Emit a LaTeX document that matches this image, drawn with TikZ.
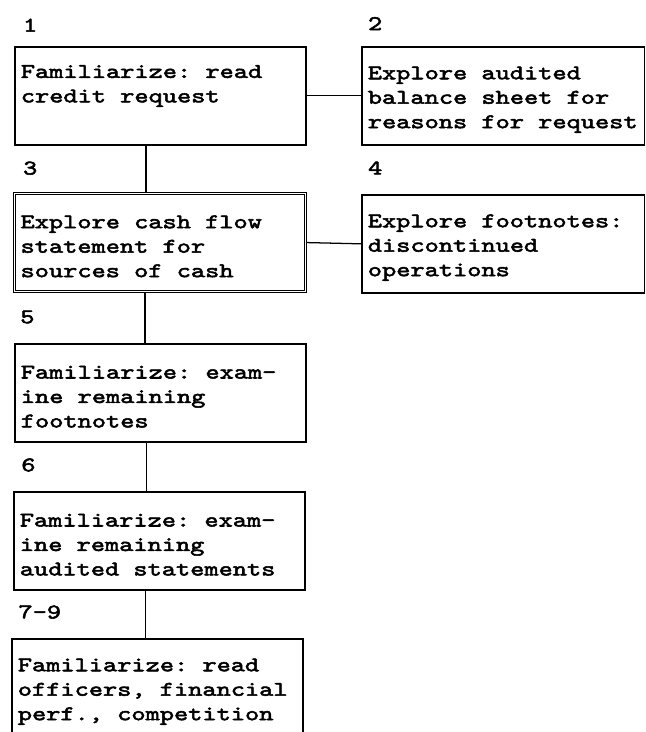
\documentclass[tikz,border=0pt]{standalone}
\usepackage{fontspec}
\usetikzlibrary{calc}
\newfontfamily\stagefont{lmmono10-regular.otf}[FakeStretch=1.3, FakeBold=2.5]
\newcommand{\stagetext}{\stagefont\fontsize{14.8}{17.4}\selectfont
	\fontdimen2\font=10.1pt\fontdimen3\font=0pt\fontdimen4\font=0pt\fontdimen7\font=0pt}
\newcommand{\stagespace}{\spaceskip=10.1pt\xspaceskip=10.1pt\relax}

\tikzset{
	stage/.style={draw, line width=1.2pt, anchor=north west, minimum height=2.45cm,
		inner xsep=0.15cm, text width=#1, align=left, font=\stagetext,
		execute at begin node={\stagespace\rule{0pt}{14.5pt}}},
	stage/.default=6.975cm,
	num/.style={anchor=west, inner sep=0pt, font=\stagetext},
	link/.style={line width=0.9pt}
}

\begin{document}
\begin{tikzpicture}
			%%%%% FRAME %%%%%
			\useasboundingbox (0, 0) rectangle (16.125, 18.3);
			\clip (0, 0) rectangle (16.125, 18.3);
			
			%%%%% STAGES %%%%%
			\node[stage] (b1) at (0.35, 17.15) {Familiarize: read\\credit request\\\strut};
			\node[stage=6.77cm] (b2) at (9.025, 17.15) {Explore audited\\balance sheet for\\reasons for request};
			\node[stage, line width=0.8pt, double, double distance=1.1pt] (b3) at (0.35, 13.475) {Explore cash flow\\statement for\\sources of cash};
			\node[stage=6.77cm] (b4) at (9.025, 13.45) {Explore footnotes:\\discontinued\\operations};
			\node[stage] (b5) at (0.35, 9.725) {Familiarize: exam-\\ine remaining\\footnotes};
			\node[stage] (b6) at (0.325, 6.025) {Familiarize: exam-\\ine remaining\\audited statements};
			\node[stage] (b7) at (0.275, 2.35) {Familiarize: read\\officers, financial\\perf., competition};
			
			%%%%% NUMBERS %%%%%
			\node[num] (n1) at ($(b1.north west)+(0.22, 0.52)$) {1};
			\node[num] (n2) at ($(b2.north west)+(0.17, 0.56)$) {2};
			\node[num] (n3) at ($(b3.north west)+(0.22, 0.62)$) {3};
			\node[num] (n4) at ($(b4.north west)+(0.17, 0.65)$) {4};
			\node[num] (n5) at ($(b5.north west)+(0.15, 0.65)$) {5};
			\node[num] (n6) at ($(b6.north west)+(0.2, 0.65)$) {6};
			\node[num] (n7) at ($(b7.north west)+(0.18, 0.65)$) {7-9};
			
			%%%%% LINKS %%%%%
			\draw[link] (b1.east) -- (b2.west);
			\draw[link] (b3.east) -- (b4.west);
			\draw[link] ([xshift=-3.6mm]b1.south) -- ([xshift=-3.6mm]b1.south |- b3.north);
			\draw[link] ([xshift=-3.75mm]b3.south) -- ([xshift=-3.75mm]b3.south |- b5.north);
			\draw[link] ([xshift=-3.5mm]b5.south) -- ([xshift=-3.5mm]b5.south |- b6.north);
			\draw[link] ([xshift=-3.4mm]b6.south) -- ([xshift=-3.4mm]b6.south |- b7.north);
\end{tikzpicture}
\end{document}
